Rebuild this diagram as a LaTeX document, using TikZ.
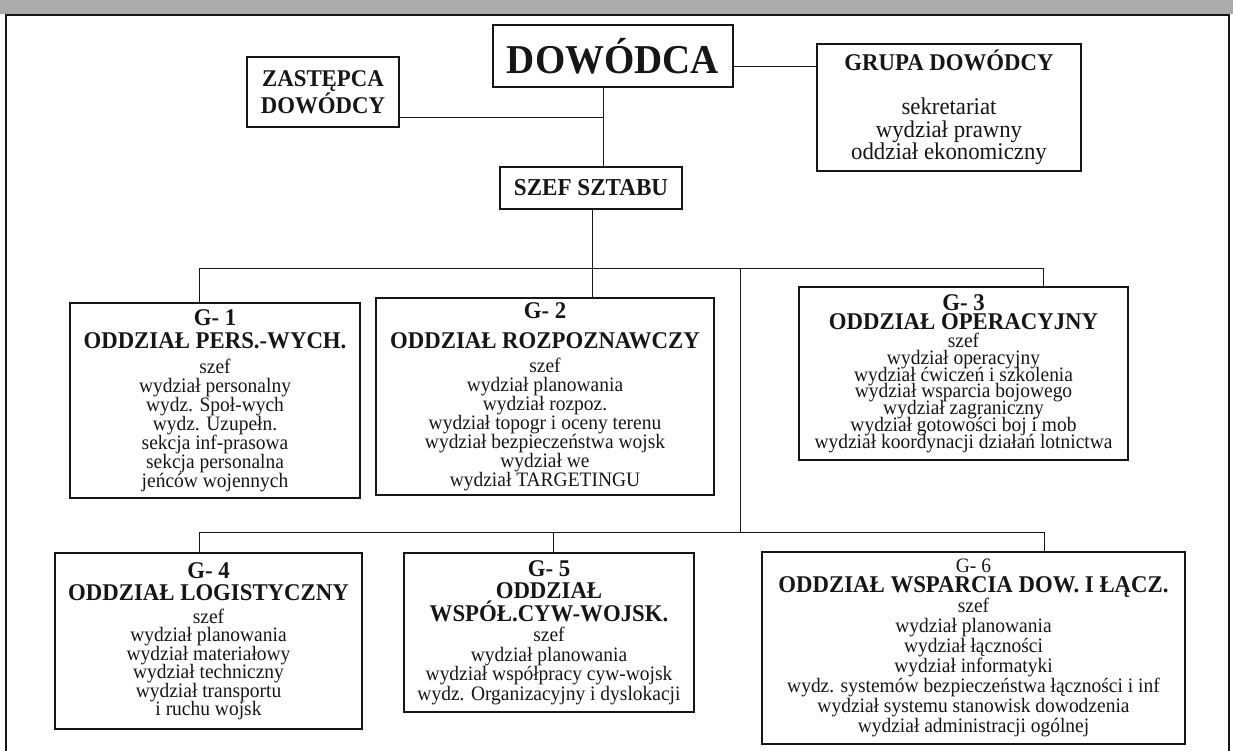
\documentclass[tikz,border=0pt]{standalone}
\usepackage{fontspec}
\setmainfont{Liberation Serif}[FakeStretch=0.95]

\definecolor{ink}{HTML}{161616}
\definecolor{scan}{HTML}{ABABAB}

% bold heading line inside a box
\newcommand{\gname}[1]{{\bfseries\fontsize{24}{19}\selectfont #1}}

\begin{document}
\begin{tikzpicture}[x=1pt,y=-1pt,
  box/.style={draw=ink,line width=1.1pt,inner sep=0pt,text=ink,align=center},
  link/.style={draw=ink,line width=1pt},
  body/.style={font=\lineskiplimit-30pt\fontsize{20.5}{#1}\selectfont},
  body/.default=19]

% Page size and scanned edge
\useasboundingbox (0,0) rectangle (1233,750);
\fill[scan] (0,0) rectangle (1233,14);
\draw[ink,line width=2pt] (6,760) -- (6,15) -- (1229,15) -- (1229,760);

% Top of the chart
\node[box,minimum width=240pt,minimum height=62pt] (dowodca) at (613,56)
  {\bfseries\fontsize{41}{43}\selectfont DOWÓDCA};
\node[box,minimum width=152pt,minimum height=70pt,
  font=\bfseries\fontsize{24}{27}\selectfont] (zastepca) at (323,92)
  {ZASTĘPCA\\ DOWÓDCY};
\node[box,minimum width=264pt,minimum height=127pt,
  font=\lineskiplimit-30pt\fontsize{24}{22.5}\selectfont] (grupa) at (949,107.5)
  {{\bfseries GRUPA DOWÓDCY}\\[22pt] sekretariat\\ wydział prawny\\ oddział ekonomiczny};
\node[box,minimum width=182pt,minimum height=42pt] (szef) at (591,188)
  {\bfseries\fontsize{24.3}{26}\selectfont SZEF SZTABU};

% First row of divisions
\node[box,body,minimum width=290pt,minimum height=195pt] (g1) at (215,400.5)
  {\gname{G- 1}\\[4pt] \gname{ODDZIAŁ PERS.-WYCH.}\\[6pt] szef\\ wydział personalny\\
   wydz. Społ-wych\\ wydz. Uzupełn.\\ sekcja inf-prasowa\\ sekcja personalna\\ jeńców wojennych};
\node[box,body,minimum width=338pt,minimum height=197pt] (g2) at (545,396.5)
  {\gname{G- 2}\\[11pt] \gname{ODDZIAŁ ROZPOZNAWCZY}\\[5pt] szef\\ wydział planowania\\
   wydział rozpoz.\\ wydział topogr i oceny terenu\\ wydział bezpieczeństwa wojsk\\
   wydział we\\ wydział TARGETINGU};
\node[box,body=16.7,minimum width=329pt,minimum height=173pt] (g3) at (963.5,373.5)
  {\gname{G- 3}\\[2pt] \gname{ODDZIAŁ OPERACYJNY}\\[2pt] szef\\ wydział operacyjny\\
   wydział ćwiczeń i szkolenia\\ wydział wsparcia bojowego\\ wydział zagraniczny\\
   wydział gotowości boj i mob\\ wydział koordynacji działań lotnictwa};

% Second row of divisions
\node[box,body=18.5,minimum width=307pt,minimum height=176pt] (g4) at (208.5,641)
  {\gname{G- 4}\\[4pt] \gname{ODDZIAŁ LOGISTYCZNY}\\[4pt] szef\\ wydział planowania\\
   wydział materiałowy\\ wydział techniczny\\ wydział transportu\\ i ruchu wojsk};
\node[box,body=19.5,minimum width=290pt,minimum height=159pt] (g5) at (549,632.5)
  {\gname{G- 5}\\[3pt] \gname{ODDZIAŁ}\\[3pt] \gname{WSPÓŁ.CYW-WOJSK.}\\[1pt] szef\\
   wydział planowania\\ wydział współpracy cyw-wojsk\\ wydz. Organizacyjny i dyslokacji};
\node[box,body=20,minimum width=423pt,minimum height=192pt] (g6) at (973.5,648)
  {G- 6\\ \gname{ODDZIAŁ WSPARCIA DOW. I ŁĄCZ.}\\ szef\\ wydział planowania\\
   wydział łączności\\ wydział informatyki\\ wydz. systemów bezpieczeństwa łączności i inf\\
   wydział systemu stanowisk dowodzenia\\ wydział administracji ogólnej};

% Bends of the connectors
\coordinate (trunk) at (603,117);
\coordinate (side) at (0,66);
\coordinate (busA) at (199,268);
\coordinate (busAend) at (1043,268);
\coordinate (spine) at (592,268);
\coordinate (drop) at (740,268);
\coordinate (busB) at (199,532);
\coordinate (busBend) at (1044,532);
\coordinate (tapB) at (553,532);

% Connectors
\draw[link] (dowodca.south -| trunk) -- (szef.north -| trunk);
\draw[link] (zastepca.east |- trunk) -- (trunk);
\draw[link] (dowodca.east |- side) -- (grupa.west |- side);
\draw[link] (szef.south -| spine) -- (g2.north -| spine);
\draw[link] (g1.north -| busA) -- (busA) -- (busAend) -- (g3.north -| busAend);
\draw[link] (drop) -- (drop |- busB);
\draw[link] (g4.north -| busB) -- (busB) -- (busBend) -- (g6.north -| busBend);
\draw[link] (tapB) -- (g5.north -| tapB);

\end{tikzpicture}
\end{document}
